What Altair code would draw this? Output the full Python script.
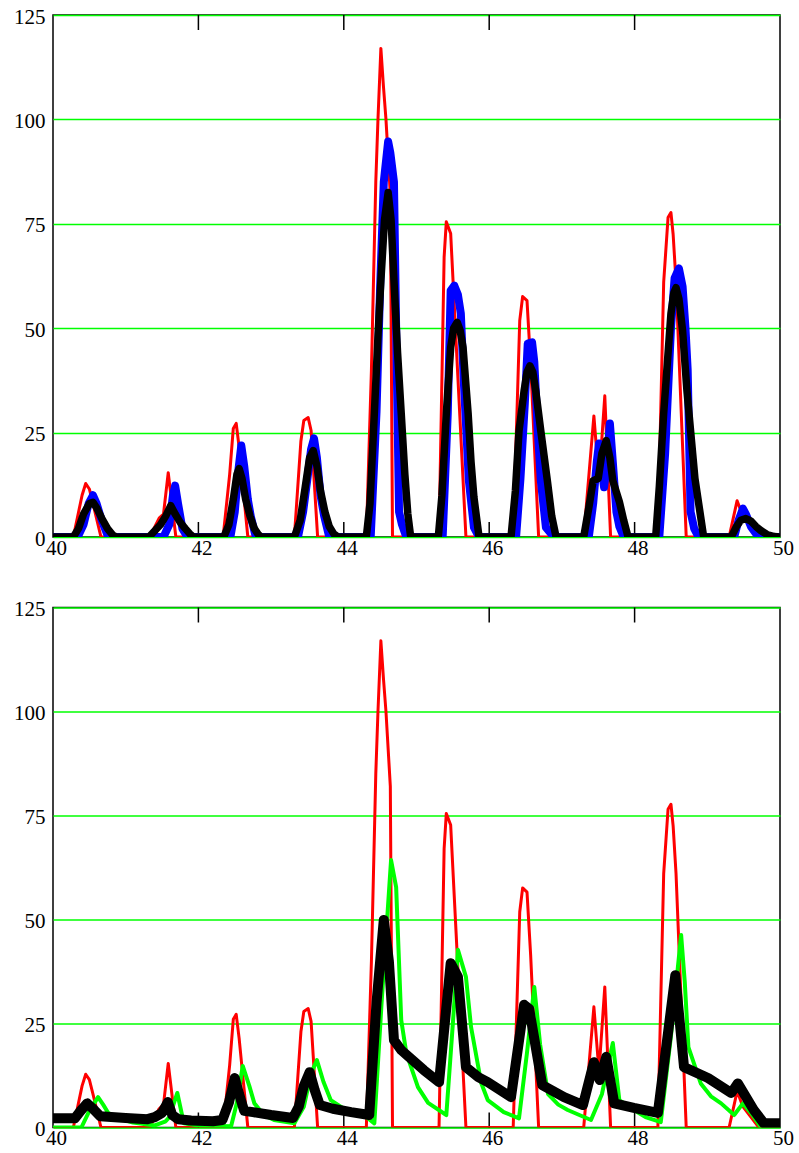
import altair as alt
import pandas as pd

# ---------------- data ----------------
x_label_values = [40, 42, 44, 46, 48, 50]
x_tick_values = [42, 44, 46, 48]
y_tick_values = [0, 25, 50, 75, 100, 125]

red_x = [40.00, 40.28, 40.40, 40.45, 40.50, 40.55, 40.66,
         41.33, 41.46, 41.52, 41.585, 41.69,
         42.34, 42.43, 42.48, 42.52, 42.56, 42.68,
         43.32, 43.41, 43.45, 43.51, 43.55, 43.64,
         44.31, 44.38, 44.44, 44.47, 44.51, 44.545, 44.58, 44.64, 44.67,
         45.31, 45.38, 45.41, 45.47, 45.57, 45.68,
         46.33, 46.42, 46.46, 46.52, 46.57, 46.68,
         47.30, 47.44, 47.51, 47.59, 47.67,
         48.32, 48.40, 48.46, 48.50, 48.53, 48.57, 48.71,
         49.30, 49.41, 49.49, 49.71, 50.00]
red_y = [0, 0, 10, 12.8, 11.5, 8, 0,
         0, 4.5, 5.5, 15.4, 0,
         0, 15, 26, 27.2, 21.5, 0,
         0, 23, 27.9, 28.6, 25.5, 0,
         0, 40, 85, 100, 117, 108, 100, 82, 0,
         0, 67, 75.5, 72.7, 38, 0,
         0, 51.8, 57.6, 56.6, 41.5, 0,
         0, 29, 13.5, 33.8, 0,
         0, 61, 76.5, 77.7, 72.5, 61, 0,
         0, 8.7, 5, 0, 0]

blue_x = [40.00, 40.34, 40.42, 40.49, 40.55, 40.60, 40.66, 40.76,
          41.52, 41.60, 41.65, 41.68, 41.72, 41.78, 41.85,
          42.44, 42.50, 42.55, 42.59, 42.63, 42.68, 42.72, 42.79,
          43.37, 43.44, 43.50, 43.55, 43.59, 43.63, 43.68, 43.73, 43.80,
          44.37, 44.45, 44.50, 44.55, 44.61, 44.64, 44.69, 44.72, 44.76, 44.80, 44.86,
          45.36, 45.43, 45.47, 45.52, 45.57, 45.61, 45.65, 45.72, 45.79, 45.86,
          46.37, 46.43, 46.49, 46.53, 46.59, 46.62, 46.67, 46.71, 46.78, 46.89,
          47.37, 47.43, 47.48, 47.51, 47.55, 47.58, 47.62, 47.66, 47.70, 47.75, 47.79, 47.85,
          48.34, 48.42, 48.50, 48.55, 48.61, 48.66, 48.70, 48.73, 48.77, 48.82, 48.88,
          49.37, 49.43, 49.49, 49.53, 49.60, 49.67, 49.74, 50.00]
blue_y = [0, 0, 3, 8, 10, 8, 4.5, 0,
          0, 3, 10, 12.3, 8, 2, 0,
          0, 6, 16, 21.9, 17, 9, 5, 0,
          0, 6, 14, 21, 23.6, 19, 10, 5, 0,
          0, 30, 60, 85, 94.7, 92, 85, 50, 6, 3, 0,
          0, 29.6, 59, 60.2, 58, 53.5, 37.5, 13.5, 2.3, 0,
          0, 14, 32, 46.3, 46.6, 42, 25, 13.5, 2.3, 0,
          0, 8, 18, 22.4, 16, 11.9, 18, 27.2, 18, 6, 2.5, 0,
          0, 20, 50, 62, 64.3, 60, 50, 40, 6, 2, 0,
          0, 4, 6.8, 5.5, 2.5, 0.8, 0, 0]

black_top_x = [40.00, 40.28, 40.35, 40.42, 40.50, 40.55, 40.60, 40.67, 40.75, 40.82, 40.87,
               41.32, 41.40, 41.48, 41.55, 41.62, 41.68, 41.75, 41.82, 41.88, 41.93,
               42.35, 42.42, 42.48, 42.53, 42.56, 42.60, 42.65, 42.71, 42.77, 42.82, 42.86,
               43.32, 43.40, 43.47, 43.53, 43.58, 43.63, 43.68, 43.74, 43.80, 43.86, 43.92,
               44.31, 44.36, 44.42, 44.47, 44.51, 44.56, 44.61, 44.65, 44.69, 44.74, 44.79, 44.84, 44.88, 44.92,
               45.30, 45.35, 45.41, 45.47, 45.51, 45.56, 45.60, 45.64, 45.71, 45.75, 45.79, 45.86,
               46.30, 46.36, 46.41, 46.48, 46.52, 46.56, 46.60, 46.64, 46.71, 46.80, 46.86, 46.92,
               47.30, 47.37, 47.43, 47.50, 47.55, 47.61, 47.66, 47.70, 47.79, 47.85, 47.91,
               48.29, 48.34, 48.40, 48.50, 48.54, 48.57, 48.61, 48.66, 48.72, 48.77, 48.83, 48.89, 48.95,
               49.33, 49.40, 49.46, 49.53, 49.60, 49.67, 49.74, 49.82, 49.92, 50.00]
black_top_y = [0, 0, 2, 5.5, 8, 8.3, 7, 4.5, 2, 0.5, 0,
               0, 1.5, 3, 5, 7.5, 5.5, 3.5, 2, 0.8, 0,
               0, 3, 9, 15, 16.4, 14, 9, 5, 2, 0.7, 0,
               0, 4, 12, 19, 20.7, 17, 11, 6, 2.5, 0.8, 0,
               0, 8, 29.6, 48, 61.4, 76, 82.5, 76, 61.4, 44, 29.6, 15, 5.6, 0,
               0, 10, 29.6, 45.4, 50, 51.4, 49.5, 45.4, 29.6, 18, 9.5, 0,
               0, 11, 25.4, 35, 39.5, 41, 39.5, 35, 25.4, 13.5, 5, 0,
               0, 7, 13.5, 14, 20, 23.1, 19, 13.5, 8.5, 4, 0,
               0, 12, 29.6, 53.5, 58.5, 59.7, 57, 49.4, 35, 25.4, 14, 7, 0,
               0, 2.5, 4, 4.4, 3.8, 2.5, 1.5, 0.6, 0.1, 0]

green_x = [40.00, 40.39, 40.50, 40.62, 40.69, 40.76, 40.90, 41.10, 41.40,
           41.55, 41.60, 41.71, 41.80, 42.00, 42.45,
           42.53, 42.61, 42.70, 42.77, 42.90, 43.04, 43.32,
           43.45, 43.55, 43.63, 43.72, 43.82, 44.00, 44.24, 44.42,
           44.52, 44.65, 44.72, 44.79, 44.86, 45.02, 45.16, 45.41,
           45.50, 45.57, 45.68, 45.75, 45.89, 45.98, 46.20, 46.41,
           46.52, 46.62, 46.70, 46.81, 46.95, 47.08, 47.40,
           47.55, 47.70, 47.79, 47.99, 48.15, 48.36,
           48.50, 48.64, 48.69, 48.74, 48.91, 49.05, 49.19, 49.37,
           49.49, 49.60, 49.74, 50.00]
green_y = [0, 0, 4, 7.3, 5.5, 3.5, 2.2, 1.2, 0.5,
           1.5, 2.5, 8.3, 1, 0.5, 0.3,
           6, 14.8, 10, 5.8, 3, 1.8, 1,
           5, 13, 16.2, 11, 6.6, 4.5, 3.5, 1,
           30, 64.3, 57.8, 25.8, 17.9, 9.7, 5.9, 3,
           25, 42.7, 36.2, 24.2, 10.7, 6.6, 3.7, 2.2,
           18, 33.8, 20, 8, 5.5, 4.2, 1.8,
           8, 20.3, 6.6, 4.2, 2.5, 1.3,
           22, 46.3, 35, 19.3, 10.6, 7.5, 5.8, 3,
           5.8, 3.5, 0, 0]

black_bot_x = [40.00, 40.30, 40.38, 40.47, 40.55, 40.65, 40.80, 41.00, 41.30,
               41.40, 41.50, 41.58, 41.64, 41.72, 41.90, 42.20, 42.33,
               42.42, 42.50, 42.56, 42.63, 42.75, 43.00, 43.30,
               43.38, 43.45, 43.53, 43.60, 43.67, 43.85, 44.10, 44.35,
               44.45, 44.55, 44.62, 44.69, 44.79, 45.10, 45.31,
               45.47, 45.57, 45.68, 45.85, 45.98, 46.30,
               46.48, 46.55, 46.73, 47.03, 47.29,
               47.44, 47.52, 47.61, 47.72, 47.99, 48.32,
               48.56, 48.68, 49.01, 49.33, 49.42, 49.64, 49.78, 50.00]
black_bot_y = [2.2, 2.2, 4, 5.8, 4.5, 2.7, 2.5, 2.3, 2,
               2.5, 3.5, 6.1, 3, 2, 1.7, 1.5, 1.8,
               6, 11.9, 8, 4, 3.7, 3, 2.3,
               5, 10, 13.3, 9, 5.4, 4.5, 3.7, 3,
               30, 49.9, 40, 21, 18.6, 13.8, 10.9,
               39.5, 36.2, 14.5, 12.1, 10.9, 7.3,
               29.5, 28.5, 10.2, 7.3, 5.4,
               15.7, 11.4, 17, 5.8, 4.7, 3.5,
               36.6, 14.5, 11.9, 8.3, 10.6, 4.2, 1, 1]

# ---------------- chart ----------------
FONT = "Liberation Serif"
W = 727
H_TOP = 522
H_BOT = 520

x_scale = alt.Scale(domain=[40, 50], nice=False, zero=False)
y_scale = alt.Scale(domain=[0, 125], nice=False, zero=True)

x_axis = alt.Axis(values=x_label_values, title=None, grid=False, ticks=False,
                  domain=False, labelPadding=0, labelOffset=3,
                  labelOverlap=False, labelFlush=False)
y_axis = alt.Axis(values=y_tick_values, title=None, grid=True,
                  ticks=False, domain=False, labelPadding=8, labelOffset=2)


def line(xs, ys, color, width):
    df = pd.DataFrame({"x": xs, "y": ys})
    return alt.Chart(df).mark_line(
        color=color, strokeWidth=width, strokeJoin="round", strokeCap="round",
        clip=True
    ).encode(
        x=alt.X("x:Q", scale=x_scale, axis=x_axis),
        y=alt.Y("y:Q", scale=y_scale, axis=y_axis),
    )


def ticks(h):
    df = pd.DataFrame({"x": x_tick_values})
    top = alt.Chart(df).mark_rule(color="black", strokeWidth=1.5).encode(
        x=alt.X("x:Q", scale=x_scale, axis=x_axis),
        y=alt.value(0), y2=alt.value(15))
    bot = alt.Chart(df).mark_rule(color="black", strokeWidth=1.5).encode(
        x=alt.X("x:Q", scale=x_scale, axis=x_axis),
        y=alt.value(h - 15), y2=alt.value(h))
    return [top, bot]


top_panel = alt.layer(
    *ticks(H_TOP),
    line(red_x, red_y, "#ff0000", 3),
    line(blue_x, blue_y, "#0000ff", 8),
    line(black_top_x, black_top_y, "#000000", 7.5),
).properties(width=W, height=H_TOP)

bottom_panel = alt.layer(
    *ticks(H_BOT),
    line(red_x, red_y, "#ff0000", 3),
    line(green_x, green_y, "#00ff00", 4),
    line(black_bot_x, black_bot_y, "#000000", 10),
).properties(width=W, height=H_BOT)

chart = alt.vconcat(top_panel, bottom_panel, spacing=38.5).properties(
    padding={"left": 12, "top": 5, "right": 0, "bottom": 0},
    background="white",
).configure(
    font=FONT
).configure_view(
    stroke="black", strokeWidth=1.5
).configure_axis(
    labelFont=FONT, labelFontSize=21, labelColor="black",
    gridColor="#00ff00", gridWidth=1.6, gridOpacity=1
).configure_axisX(
    labelFlush=False
)

chart.save("out.html", embed_options={"renderer": "svg", "actions": False})
